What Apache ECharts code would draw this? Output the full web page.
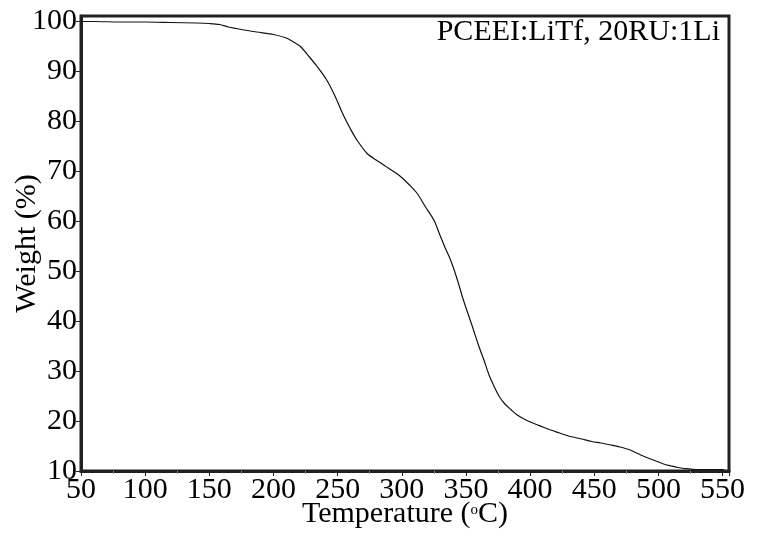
<!DOCTYPE html>
<html>
<head>
<meta charset="utf-8">
<script src="https://cdn.jsdelivr.net/npm/echarts@6/dist/echarts.min.js"></script>
<style>html,body{margin:0;padding:0;background:#fff;}#chart{width:757px;height:533px;}</style>
</head>
<body>
<div id="chart"></div>
<script>
// Temperature (°C)
const temperature = [50,60,80,100,120,140,150,158,165,175,187,200,210,215,221,228,234,241,247,255,260,265,273,280,286,293,299,306,312,318,325,330,334,338,343,348,355,360,364,368,372,376,380,385,390,396,403,410,416,423,430,440,448,455,463,470,478,483,489,494,499,504,510,515,520,530,540,551];
// Weight (%)
const weight = [99.9,99.9,99.8,99.8,99.7,99.6,99.5,99.3,98.8,98.3,97.8,97.3,96.6,95.9,94.9,92.8,90.9,88.4,85.5,80.9,78.4,76.2,73.5,72.2,71.2,70.0,68.9,67.2,65.5,63.0,60.2,57.0,54.5,52.2,48.5,44.2,38.9,35.0,32.2,29.2,26.9,24.9,23.5,22.3,21.2,20.3,19.5,18.8,18.2,17.6,17.0,16.4,15.9,15.6,15.2,14.8,14.2,13.6,12.9,12.4,11.9,11.4,11.0,10.7,10.5,10.3,10.3,10.3];
const xTicks = [50,100,150,200,250,300,350,400,450,500,550];
const yTicks = [10,20,30,40,50,60,70,80,90,100];
const annotation = 'PCEEI:LiTf, 20RU:1Li';

const FONT = 'Liberation Serif';
const chart = echarts.init(document.getElementById('chart'));
chart.setOption({
  animation: false,
  backgroundColor: '#fff',
  grid: {left: 81, right: 28, top: 16, bottom: 62, show: true, borderColor: '#231f20', borderWidth: 3,
         containLabel: false, outerBoundsMode: 'none'},
  xAxis: {
    type: 'value', min: 50, max: 555, interval: 50,
    name: 'Temperature ({sup|o}C)', nameLocation: 'middle', nameGap: 28, nameMoveOverlap: false,
    nameTextStyle: {fontFamily: FONT, fontSize: 30, color: '#000',
      rich: {sup: {fontFamily: FONT, fontSize: 15, color: '#000', padding: [0,0,8,0]}}},
    axisLine: {show: true, lineStyle: {color: '#231f20', width: 3}},
    axisTick: {show: true, inside: false, length: 5, lineStyle: {color: '#231f20', width: 1}},
    minorTick: {show: true, splitNumber: 2, length: 3, lineStyle: {color: '#888'}},
    axisLabel: {fontFamily: FONT, fontSize: 30, color: '#000', margin: 4, showMaxLabel: false,
      formatter: v => xTicks.includes(v) ? String(v) : ''},
    splitLine: {show: false}
  },
  yAxis: {
    type: 'value', min: 10, max: 101, interval: 10,
    name: 'Weight (%)', nameLocation: 'middle', nameGap: 39, nameMoveOverlap: false,
    nameTextStyle: {fontFamily: FONT, fontSize: 30, color: '#000'},
    axisLine: {show: true, lineStyle: {color: '#231f20', width: 3}},
    axisTick: {show: true, inside: false, length: 5, lineStyle: {color: '#231f20', width: 1}},
    axisLabel: {fontFamily: FONT, fontSize: 30, color: '#000', margin: 4, showMaxLabel: false,
      formatter: v => yTicks.includes(v) ? String(v) : ''},
    splitLine: {show: false}
  },
  graphic: [{
    type: 'text', right: 37, top: 17,
    style: {text: annotation, font: '30px "Liberation Serif"', fill: '#000'}
  }],
  series: [{
    type: 'line', showSymbol: false, smooth: 0.3,
    data: temperature.map((t, i) => [t, weight[i]]),
    lineStyle: {color: '#111', width: 1.2}
  }]
});
</script>
</body>
</html>
